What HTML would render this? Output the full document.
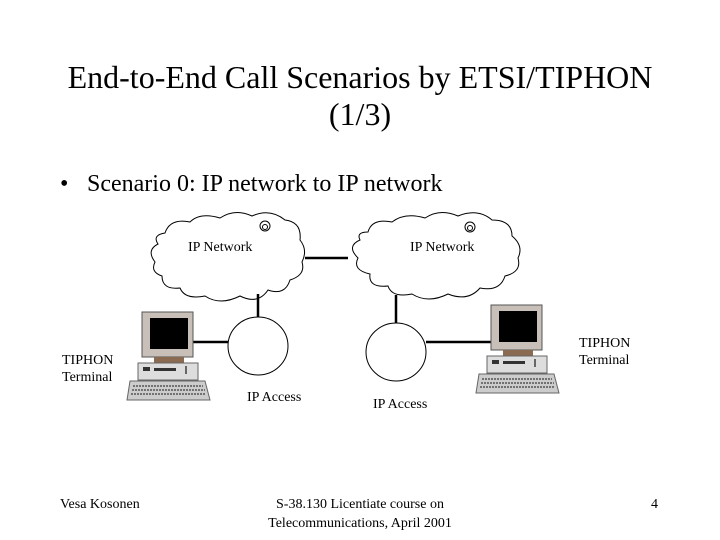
<!DOCTYPE html>
<html><head><style>
body{margin:0;background:#fff;}
svg{display:block;font-family:"Liberation Serif",serif;}
</style></head><body>
<svg width="720" height="540" viewBox="0 0 720 540">
<defs>
<g id="pc">
<rect x="142" y="312" width="51" height="45" fill="#c8c0b8" stroke="#555" stroke-width="1"/>
<rect x="150" y="318" width="38" height="31" fill="#000"/>
<rect x="154" y="357" width="30" height="6" fill="#8a6a50"/>
<rect x="138" y="363" width="60" height="17" fill="#ddd" stroke="#666" stroke-width="1"/>
<rect x="143" y="367" width="7" height="4" fill="#333"/>
<rect x="154" y="368" width="22" height="3" fill="#333"/>
<rect x="185" y="366" width="2" height="8" fill="#666"/>
<polygon points="130,381 205,381 210,400 127,400" fill="#ccc" stroke="#666" stroke-width="1"/>
<path d="M133 386 H203 M132 390 H205 M131 394 H206" stroke="#555" stroke-width="1.5" stroke-dasharray="2,1"/>
</g>
</defs>
<text x="360" y="88" font-size="32" text-anchor="middle">End-to-End Call Scenarios by ETSI/TIPHON</text>
<text x="360" y="125" font-size="32" text-anchor="middle">(1/3)</text>
<text x="60" y="191" font-size="24">•</text>
<text x="87" y="191" font-size="24">Scenario 0: IP network to IP network</text>

<g fill="#fff" stroke="#000" stroke-width="1">
<path d="M165 233 Q170 218 190 222 Q200 212 220 218 Q235 208 252 216 Q270 208 285 220 Q302 222 300 240 Q308 250 302 262 Q306 275 290 280 Q285 296 268 290 Q258 305 240 296 Q220 306 205 296 Q185 300 180 288 Q162 290 162 276 Q150 272 155 262 Q146 250 158 244 Q152 235 165 233 Z"/>
<path d="M368 232 Q372 218 392 222 Q405 212 425 218 Q440 208 458 216 Q478 208 492 220 Q512 220 512 236 Q524 246 518 258 Q522 272 505 276 Q500 292 480 288 Q468 302 448 294 Q428 304 412 294 Q392 298 388 286 Q368 288 370 274 Q352 270 358 258 Q346 246 360 240 Q356 232 368 232 Z"/>
<circle cx="265" cy="226" r="5"/><circle cx="265" cy="227" r="2.5"/>
<circle cx="470" cy="227" r="5"/><circle cx="470" cy="228" r="2.5"/>
<ellipse cx="258" cy="346" rx="30" ry="29"/>
<ellipse cx="396" cy="352" rx="30" ry="29"/>
</g>
<g stroke="#000" stroke-width="2.5">
<line x1="305" y1="258" x2="348" y2="258"/>
<line x1="258" y1="294" x2="258" y2="317"/>
<line x1="396" y1="295" x2="396" y2="323"/>
<line x1="193" y1="342" x2="228" y2="342"/>
<line x1="426" y1="342" x2="492" y2="342"/>
</g>
<use href="#pc"/>
<use href="#pc" transform="translate(349,-7)"/>
<g font-size="14">
<text x="188" y="251">IP Network</text>
<text x="410" y="251">IP Network</text>
<text x="247" y="401">IP Access</text>
<text x="373" y="408">IP Access</text>
<text x="62" y="364">TIPHON</text>
<text x="62" y="381">Terminal</text>
<text x="579" y="347">TIPHON</text>
<text x="579" y="364">Terminal</text>
<text x="60" y="508">Vesa Kosonen</text>
<text x="360" y="508" text-anchor="middle">S-38.130 Licentiate course on</text>
<text x="360" y="527" text-anchor="middle">Telecommunications, April 2001</text>
<text x="651" y="508">4</text>
</g>
</svg>
</body></html>
